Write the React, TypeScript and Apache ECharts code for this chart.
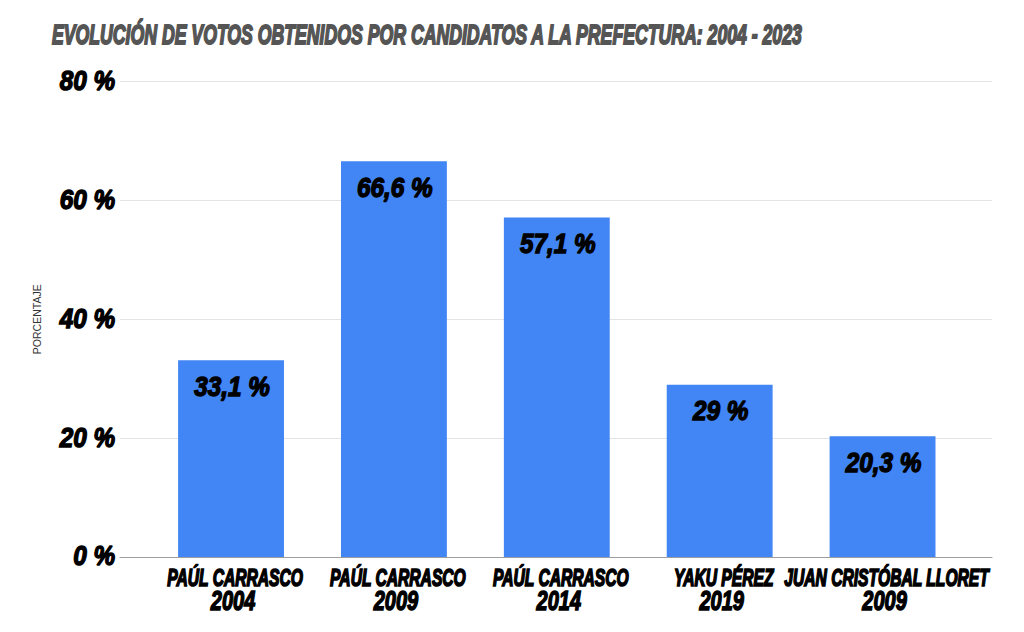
import React, { useEffect, useRef } from "react";
import * as echarts from "echarts";

const title = "EVOLUCIÓN DE VOTOS OBTENIDOS POR CANDIDATOS A LA PREFECTURA: 2004 - 2023";
const yAxisName = "PORCENTAJE";
const candidates = ["PAÚL CARRASCO", "PAÚL CARRASCO", "PAÚL CARRASCO", "YAKU PÉREZ", "JUAN CRISTÓBAL LLORET"];
const years = ["2004", "2009", "2014", "2019", "2009"];
const values = [33.1, 66.6, 57.1, 29, 20.3];
const valueLabels = ["33,1 %", "66,6 %", "57,1 %", "29 %", "20,3 %"];
const yTicks = [0, 20, 40, 60, 80];
const yTickLabels = ["0 %", "20 %", "40 %", "60 %", "80 %"];

const FONT = "'Liberation Sans', Arial, sans-serif";
const FS = 27;
const FS_NAME = 24;

function measure(text: string, size: number) {
  const c = document.createElement("canvas").getContext("2d");
  if (!c) return text.length * size * 0.6;
  c.font = `italic bold ${size}px ${FONT}`;
  return c.measureText(text).width;
}

export default function App() {
  const ref = useRef<HTMLDivElement>(null);
  useEffect(() => {
    document.body.style.margin = "0";
    if (!ref.current) return;
    const chart = echarts.init(ref.current, undefined, { renderer: "svg" });

    const titleScale = 752 / measure(title, 28.5);
    const letterScale = 136 / measure("PAÚL CARRASCO", FS_NAME);
    const numScale = 0.9;
    const yearScale = 0.74;

    const txt = (text: string, x: number, y: number, sx: number, color: string, lw = 1.3, size = FS) => ({
      type: "text",
      x,
      y,
      scaleX: sx,
      style: {
        text,
        fill: color,
        stroke: color,
        lineWidth: lw,
        fontSize: size,
        fontFamily: FONT,
        fontWeight: "bold",
        fontStyle: "italic",
        align: "center",
        verticalAlign: "middle",
      },
    });

    chart.setOption({
      animation: false,
      backgroundColor: "#ffffff",
      graphic: [
        {
          type: "text",
          x: 52,
          y: 34.5,
          scaleX: titleScale,
          style: {
            text: title,
            fill: "#555555",
            stroke: "#555555",
            lineWidth: 1.9,
            fontSize: 28.5,
            fontFamily: FONT,
            fontWeight: "bold",
            fontStyle: "italic",
            align: "left",
            verticalAlign: "middle",
          },
        },
      ],
      grid: [
        { left: 120, right: 32, top: 81.5, bottom: 75 },
        { left: 149.6, right: 60, top: 81.5, bottom: 75 },
      ],
      xAxis: [
        {
          gridIndex: 0,
          type: "category",
          data: years,
          axisLine: { show: true, lineStyle: { color: "#9e9e9e", width: 1 } },
          axisTick: { show: false },
          axisLabel: { show: false },
        },
        {
          gridIndex: 1,
          type: "category",
          data: years,
          axisLine: { show: false },
          axisTick: { show: false },
          axisLabel: { show: false },
        },
      ],
      yAxis: [
        {
          gridIndex: 0,
          type: "value",
          min: 0,
          max: 80,
          interval: 20,
          name: yAxisName,
          nameLocation: "middle",
          nameGap: 78,
          nameTextStyle: { fontSize: 10.5, color: "#333333", fontFamily: FONT },
          axisLine: { show: false },
          axisTick: { show: false },
          splitLine: { lineStyle: { color: "#e4e4e4", width: 1 } },
          axisLabel: { show: false },
        },
        {
          gridIndex: 1,
          type: "value",
          min: 0,
          max: 80,
          interval: 20,
          show: false,
          splitLine: { show: false },
        },
      ],
      series: [
        {
          type: "bar",
          xAxisIndex: 1,
          yAxisIndex: 1,
          data: values,
          barWidth: "65%",
          itemStyle: { color: "#4285f4" },
        },
        {
          type: "custom",
          xAxisIndex: 1,
          yAxisIndex: 1,
          clip: false,
          z: 10,
          data: values.map((v, i) => [i, v]),
          renderItem: (params: any, api: any) => {
            const i = api.value(0);
            const top = api.coord([i, api.value(1)]);
            const base = api.coord([i, 0]);
            return {
              type: "group",
              children: [
                txt(valueLabels[params.dataIndex], top[0] + 1, top[1] + 26, numScale, "#000000", 1.4),
                txt(candidates[params.dataIndex], base[0] + 4, base[1] + 20.5, letterScale, "#000000", 1.7, FS_NAME),
                txt(years[params.dataIndex], base[0] + 2, base[1] + 43.5, yearScale, "#000000", 1.5),
              ],
            };
          },
        },
        {
          type: "custom",
          xAxisIndex: 0,
          yAxisIndex: 0,
          clip: false,
          z: 10,
          data: yTicks.map((v) => [0, v]),
          renderItem: (params: any, api: any) => {
            const p = api.coord([0, api.value(1)]);
            const left = params.coordSys.x;
            const t: any = txt(yTickLabels[params.dataIndex], left - 5, p[1] - 1, numScale, "#000000", 1.4);
            t.style.align = "right";
            return t;
          },
        },
      ],
    });
    return () => chart.dispose();
  }, []);
  return <div ref={ref} style={{ width: 1024, height: 632 }} />;
}
